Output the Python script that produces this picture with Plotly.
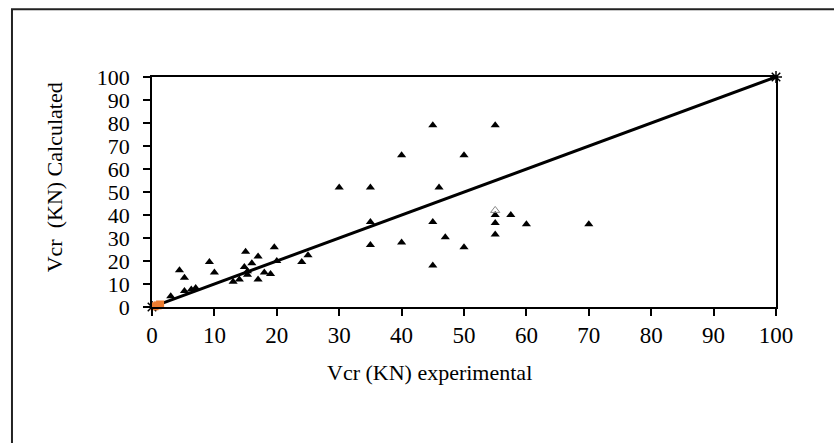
import plotly.graph_objects as go

# Experimental vs calculated Vcr (KN)
exp_vals = [45, 55, 40, 50, 30, 35, 46, 55, 57.5, 35, 45, 55, 60, 70, 47, 55, 35, 40, 50, 25, 45,
            4.4, 5.2, 9.2, 10, 15, 17, 19.6, 16, 14.8, 18, 19, 17, 20, 13, 14, 15.3, 15.3, 24,
            5.2, 6.3, 7, 3]
calc_vals = [79, 79, 66, 66, 52, 52, 52, 40, 40, 37, 37, 36.5, 36, 36, 30.3, 31.5, 27, 28, 26, 22.5, 18,
             16, 12.7, 19.6, 15, 24, 22, 26, 19, 17.4, 15, 14.4, 12, 20, 11, 12, 15.5, 14, 19.6,
             7, 7.6, 8.3, 4.7]
# hollow marker
exp_hollow = [55]
calc_hollow = [42]
# second series near origin
exp_orange = [0.4, 0.9, 1.3]
calc_orange = [0.3, 0.7, 1.1]
# reference line (1:1)
line_x = [0, 100]
line_y = [0, 100]

font_family = "Liberation Serif"

fig = go.Figure()
fig.add_trace(go.Scatter(x=line_x, y=line_y, mode="lines+markers",
                         line=dict(color="black", width=3),
                         marker=dict(symbol="asterisk-open", size=10, color="black",
                                     line=dict(color="black", width=1.5)),
                         cliponaxis=False, showlegend=False))
fig.add_trace(go.Scatter(x=exp_vals, y=calc_vals, mode="markers",
                         marker=dict(symbol="triangle-up", size=8, color="black"),
                         cliponaxis=False, showlegend=False))
fig.add_trace(go.Scatter(x=exp_hollow, y=calc_hollow, mode="markers",
                         marker=dict(symbol="triangle-up-open", size=8, color="#888888"),
                         cliponaxis=False, showlegend=False))
fig.add_trace(go.Scatter(x=exp_orange, y=calc_orange, mode="markers",
                         marker=dict(symbol="square", size=8, color="#ED7D31"),
                         cliponaxis=False, showlegend=False))

axis_common = dict(range=[0, 100], dtick=10, ticks="outside", ticklen=7, tickwidth=1.5,
                   tickcolor="black", showline=True, linecolor="black", linewidth=1.5,
                   mirror=True, showgrid=False, zeroline=False)
fig.update_xaxes(**axis_common, tickfont=dict(family=font_family, size=23, color="black"))
fig.update_yaxes(**axis_common, ticklabelstandoff=9,
                 tickfont=dict(family=font_family, size=22, color="black"))

fig.add_annotation(text="Vcr (KN) experimental", xref="paper", yref="paper",
                   x=0.445, y=-0.284, xanchor="center", yanchor="middle", showarrow=False,
                   font=dict(family=font_family, size=22, color="black"))
fig.add_annotation(text="Vcr  (KN) Calculated", xref="paper", yref="paper",
                   x=-0.157, y=0.564, xanchor="center", yanchor="middle", showarrow=False,
                   textangle=-90,
                   font=dict(family=font_family, size=22, color="black"))

fig.add_shape(type="rect", xref="paper", yref="paper",
              x0=-0.2244, y0=-0.8, x1=1.3, y1=1.295,
              line=dict(color="#222222", width=2))

fig.update_layout(width=834, height=443, margin=dict(l=152, r=58, t=77, b=135.5),
                  plot_bgcolor="white", paper_bgcolor="white")

fig.write_html("out.html")
